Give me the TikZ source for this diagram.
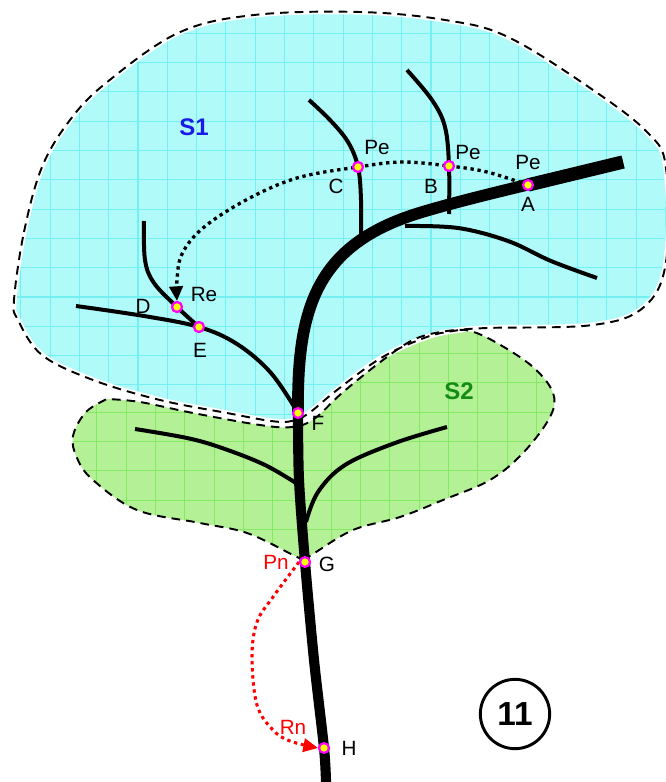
\documentclass[tikz,border=0pt]{standalone}
\usepackage{fontspec}
\setmainfont{Liberation Sans}
\usetikzlibrary{arrows.meta}
\definecolor{cyanfill}{HTML}{B0FAFA}
\definecolor{cyangrid}{HTML}{74F0F2}
\definecolor{greenfill}{HTML}{B4F096}
\definecolor{greengrid}{HTML}{84EA62}
\definecolor{ptmag}{HTML}{FF00FF}
\definecolor{ptyel}{HTML}{FFFF00}
\definecolor{sblue}{HTML}{1A1AE6}
\definecolor{sgreen}{HTML}{148C14}
\newcommand{\SOnePath}{plot[smooth cycle, tension=0.6] coordinates {(14,300) (24,232) (42,167) (70,120) (106,83) (178,33) (254,15) (360,12) (445,20) (508,37) (593,90) (648,133) (666,168) (666,262) (644,307) (593,325) (487,328) (453,331) (424,338) (381,358) (337,390) (309,413) (292,421) (271,421) (227,413) (160,400) (93,380) (42,355) (18,320)}}
\newcommand{\STwoPath}{plot[smooth, tension=0.6] coordinates {(303,560) (313,554) (353,530) (400,517) (443,500) (490,480) (523,453) (550,417) (553,393) (533,367) (497,343) (470,331) (447,331) (415,339) (383,360) (342,393) (314,419) (292,427) (260,425) (193,413) (140,402) (107,399)} -- plot[smooth, tension=0.6] coordinates {(107,399) (86,412) (73,436) (77,458) (93,480) (137,510) (200,523) (247,533) (293,555) (303,560)} -- cycle}
\begin{document}
\begin{tikzpicture}[x=0.75pt,y=-0.75pt,
  outline/.style={black, line width=1.45pt, dash pattern=on 6.5pt off 4.5pt},
  halo/.style={white, line width=4pt},
  branch/.style={black, line width=3pt},
  dotline/.style={line width=2.5pt, dash pattern=on 2.5pt off 2.8pt},
  pt/.style={circle, draw=ptmag, fill=ptyel, line width=1.6pt, minimum size=7.4pt, inner sep=0pt},
  lbl/.style={font=\fontsize{15.5}{18}\selectfont, inner sep=0pt},
  reglbl/.style={font=\fontsize{18}{21}\selectfont\bfseries, inner sep=0pt}]
\useasboundingbox (0,0) rectangle (666,782);
% region S2
\begin{scope}
\clip \STwoPath;
\fill[greenfill] (0,0) rectangle (666,782);
\foreach \i in {0,...,22} \draw[greengrid, line width=0.8pt] ({9+29.3*\i},0) -- ({9+29.3*\i},782);
\foreach \j in {0,...,27} \draw[greengrid, line width=0.8pt] (0,{2+29.3*\j}) -- (666,{2+29.3*\j});
\end{scope}
% region S1
\begin{scope}
\clip \SOnePath;
\fill[cyanfill] (0,0) rectangle (666,782);
\foreach \i in {0,...,22} \draw[cyangrid, line width=0.8pt] ({20.8+29.3*\i},0) -- ({20.8+29.3*\i},782);
\foreach \j in {0,...,27} \draw[cyangrid, line width=0.8pt] (0,{4+29.3*\j}) -- (666,{4+29.3*\j});
\end{scope}
\draw[halo] \SOnePath;
\draw[outline] \STwoPath;
\draw[outline] \SOnePath;
% points
\node[pt] (A) at (528,185) {};
\node[pt] (B) at (449,166) {};
\node[pt] (C) at (358,167) {};
\node[pt] (Re) at (177,307) {};
\node[pt] (E) at (199,327) {};
\node[pt] (F) at (298,413) {};
\node[pt] (G) at (305,562) {};
\node[pt] (H) at (324,748) {};
\coordinate (stembot) at (326,782);
\coordinate (stemtop) at (623,162);
% branches
\draw[branch] plot[smooth, tension=0.6] coordinates {(309,100) (330,120) (348,142) (C.center) (361,200) (361,244)};
\draw[branch] plot[smooth, tension=0.6] coordinates {(407,70) (432,100) (445,127) (B.center) (449,214)};
\draw[branch] plot[smooth, tension=0.6] coordinates {(405,226) (458,228) (508,241) (551,261) (597,278)};
\draw[branch] plot[smooth, tension=0.6] coordinates {(76,306) (144,316) (E.center) (237,344) (271,373) (F.center)};
\draw[branch] plot[smooth, tension=0.6] coordinates {(144,221) (145,260) (154,283) (Re.center) (E.center)};
\draw[branch] plot[smooth, tension=0.6] coordinates {(135,429) (187,438) (222,448) (265,465) (299,485)};
\draw[branch] plot[smooth, tension=0.6] coordinates {(306,522) (318,492) (345,465) (395,443) (447,427)};
% stem
\draw[line width=7.6pt] plot[smooth, tension=0.5] coordinates {(stembot) (H.center) (314,660) (G.center) (299,480) (F.center)};
\draw[line width=8.8pt] (F.center) .. controls (297,310) and (315,245) .. (419,213) .. controls (471,197) and (570,175) .. (stemtop);
\draw[line width=10pt] (A.center) -- (stemtop);
% dotted connectors
\draw[dotline, -{Triangle[length=11pt,width=10pt]}] plot[smooth, tension=0.6] coordinates {(A.center) (487,172) (B.center) (402,162) (C.center) (297,178) (246,200) (203,228) (182,254) (177,280) (Re.north)};
\draw[dotline, red, line width=2.3pt, -{Triangle[length=11pt,width=10pt]}] plot[smooth, tension=0.6] coordinates {(G.west) (273,597) (257,622) (252,657) (257,705) (273,730) (290,741) (H.west)};
% redraw points over lines
\foreach \p in {A,B,C,Re,E,F,G,H} \node[pt] at (\p) {};
% labels
\node[lbl] (lPeC) at (377,147) {Pe};
\node[lbl] (lPeB) at (468,152) {Pe};
\node[lbl] (lPeA) at (528,162) {Pe};
\node[lbl] (lC) at (336,186) {C};
\node[lbl] (lB) at (431,186) {B};
\node[lbl] (lA) at (528,204) {A};
\node[lbl] (lD) at (143,306) {D};
\node[lbl] (lRe) at (204,294) {Re};
\node[lbl] (lE) at (200,350) {E};
\node[lbl] (lF) at (318,423) {F};
\node[lbl] (lG) at (327,564) {G};
\node[lbl, red] (lPn) at (276,562) {Pn};
\node[lbl] (lH) at (349,748) {H};
\node[lbl, red] (lRn) at (293,727) {Rn};
\node[reglbl, sblue] (lS1) at (194,127) {S1};
\node[reglbl, sgreen] (lS2) at (459,391) {S2};
\node[circle, draw, line width=2.2pt, minimum size=52pt, inner sep=0pt, font=\fontsize{25}{28}\selectfont\bfseries] (num) at (515,714) {11};
\end{tikzpicture}
\end{document}
